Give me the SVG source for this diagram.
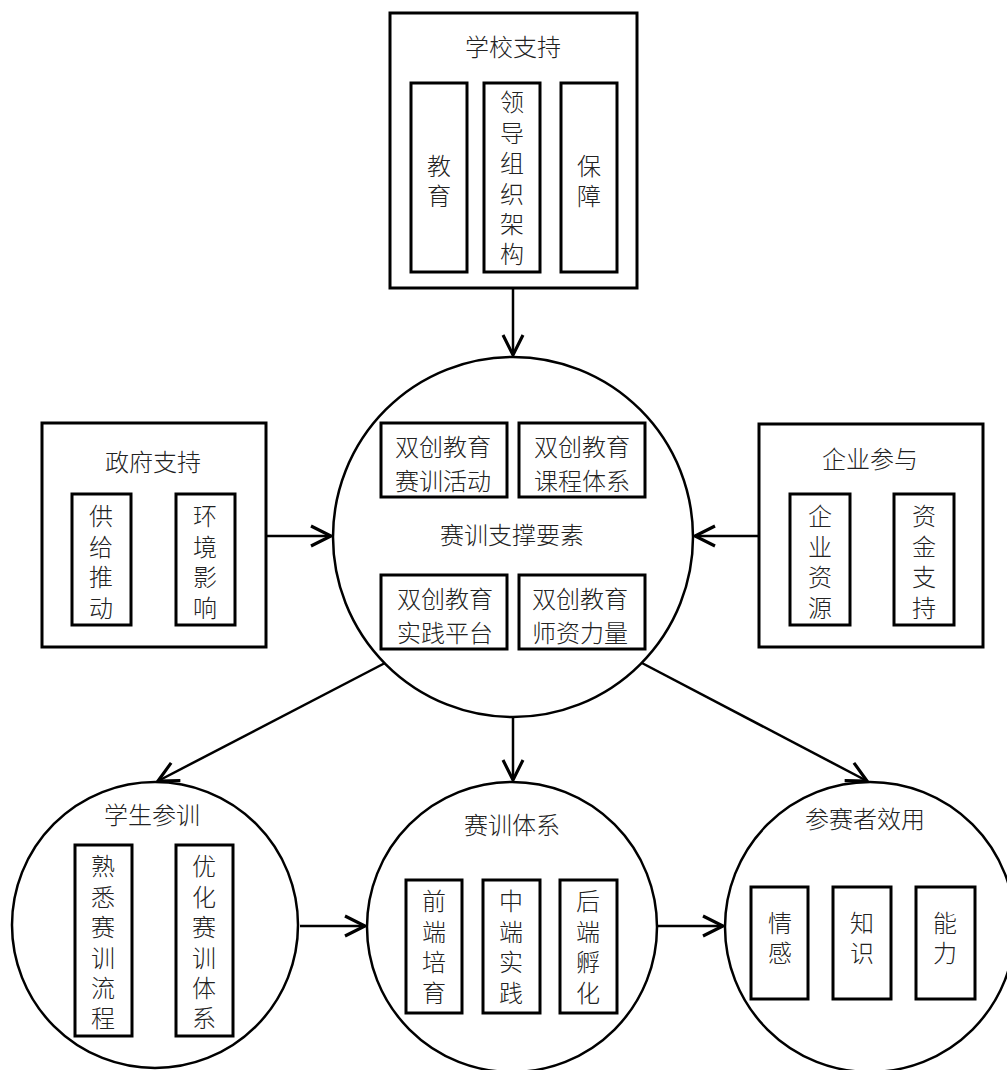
<svg xmlns="http://www.w3.org/2000/svg" width="1007" height="1070" viewBox="0 0 1007 1070">
<defs>
<style>
.box{fill:#fff;stroke:#000;stroke-width:3}
.ibox{fill:#fff;stroke:#000;stroke-width:3}
.circ{fill:#fff;stroke:#000;stroke-width:2.5}
.edge{fill:none;stroke:#000;stroke-width:2.5}
text{font-family:"Noto Sans CJK SC","Liberation Sans",sans-serif;font-size:24px;font-weight:300;fill:#222;text-anchor:middle;dominant-baseline:central}
.v{writing-mode:vertical-rl;letter-spacing:6.4px}
</style>
<marker id="arr" markerUnits="userSpaceOnUse" markerWidth="30" markerHeight="30" viewBox="-20 -12 24 24" refX="0" refY="0" orient="auto">
<path d="M-16,-8 L0,0 L-16,8" fill="none" stroke="#000" stroke-width="2.5"/>
</marker>
</defs>
<rect width="1007" height="1070" fill="#fff"/>

<g id="connectors">
<line class="edge" x1="513" y1="288" x2="513" y2="355" marker-end="url(#arr)"/>
<line class="edge" x1="266" y1="536" x2="331" y2="536" marker-end="url(#arr)"/>
<line class="edge" x1="759" y1="536" x2="695" y2="536" marker-end="url(#arr)"/>
<line class="edge" x1="513" y1="717" x2="513" y2="780" marker-end="url(#arr)"/>
<line class="edge" x1="385" y1="663" x2="158" y2="781" marker-end="url(#arr)"/>
<line class="edge" x1="640" y1="662" x2="867" y2="781" marker-end="url(#arr)"/>
<line class="edge" x1="300" y1="926" x2="365" y2="926" marker-end="url(#arr)"/>
<line class="edge" x1="657" y1="926" x2="723" y2="926" marker-end="url(#arr)"/>
</g>

<g id="school">
<rect class="box" x="390" y="13" width="247" height="275"/>
<text x="513" y="45">学校支持</text>
<rect class="ibox" x="411" y="83" width="56" height="189"/>
<text class="v" x="439" y="184">教育</text>
<rect class="ibox" x="484" y="83" width="56" height="189"/>
<text class="v" x="512" y="181.5">领导组织架构</text>
<rect class="ibox" x="561" y="83" width="56" height="189"/>
<text class="v" x="589" y="184">保障</text>
</g>

<g id="center">
<circle class="circ" cx="513" cy="537" r="180"/>
<rect class="ibox" x="381" y="423" width="126" height="74"/>
<text x="443" y="445">双创教育</text>
<text x="443" y="479">赛训活动</text>
<rect class="ibox" x="519" y="423" width="126" height="74"/>
<text x="582" y="445">双创教育</text>
<text x="582" y="479">课程体系</text>
<text x="512" y="533">赛训支撑要素</text>
<rect class="ibox" x="381" y="575" width="126" height="74"/>
<text x="445" y="597">双创教育</text>
<text x="445" y="631">实践平台</text>
<rect class="ibox" x="519" y="575" width="126" height="74"/>
<text x="580" y="597">双创教育</text>
<text x="580" y="631">师资力量</text>
</g>

<g id="government">
<rect class="box" x="42" y="423" width="224" height="224"/>
<text x="153" y="460">政府支持</text>
<rect class="ibox" x="72" y="494" width="59" height="131"/>
<text class="v" x="101" y="565">供给推动</text>
<rect class="ibox" x="176" y="494" width="59" height="131"/>
<text class="v" x="205" y="565">环境影响</text>
</g>

<g id="enterprise">
<rect class="box" x="759" y="424" width="224" height="223"/>
<text x="870" y="457">企业参与</text>
<rect class="ibox" x="790" y="494" width="60" height="131"/>
<text class="v" x="820" y="565">企业资源</text>
<rect class="ibox" x="894" y="494" width="60" height="131"/>
<text class="v" x="924" y="565">资金支持</text>
</g>

<g id="students">
<circle class="circ" cx="155" cy="925" r="143"/>
<text x="152" y="813">学生参训</text>
<rect class="ibox" x="75" y="845" width="57" height="191"/>
<text class="v" x="103" y="945.5">熟悉赛训流程</text>
<rect class="ibox" x="176" y="845" width="57" height="191"/>
<text class="v" x="204" y="945.5">优化赛训体系</text>
</g>

<g id="system">
<circle class="circ" cx="512" cy="927" r="145"/>
<text x="512" y="823">赛训体系</text>
<rect class="ibox" x="406" y="880" width="56" height="133"/>
<text class="v" x="434" y="950">前端培育</text>
<rect class="ibox" x="483" y="880" width="57" height="133"/>
<text class="v" x="511" y="950">中端实践</text>
<rect class="ibox" x="560" y="880" width="57" height="133"/>
<text class="v" x="588" y="950">后端孵化</text>
</g>

<g id="utility">
<circle class="circ" cx="870" cy="927" r="145"/>
<text x="865" y="817">参赛者效用</text>
<rect class="ibox" x="751" y="887" width="57" height="112"/>
<text class="v" x="780" y="941">情感</text>
<rect class="ibox" x="833" y="887" width="58" height="112"/>
<text class="v" x="862" y="941">知识</text>
<rect class="ibox" x="916" y="887" width="59" height="112"/>
<text class="v" x="945" y="941">能力</text>
</g>
</svg>
